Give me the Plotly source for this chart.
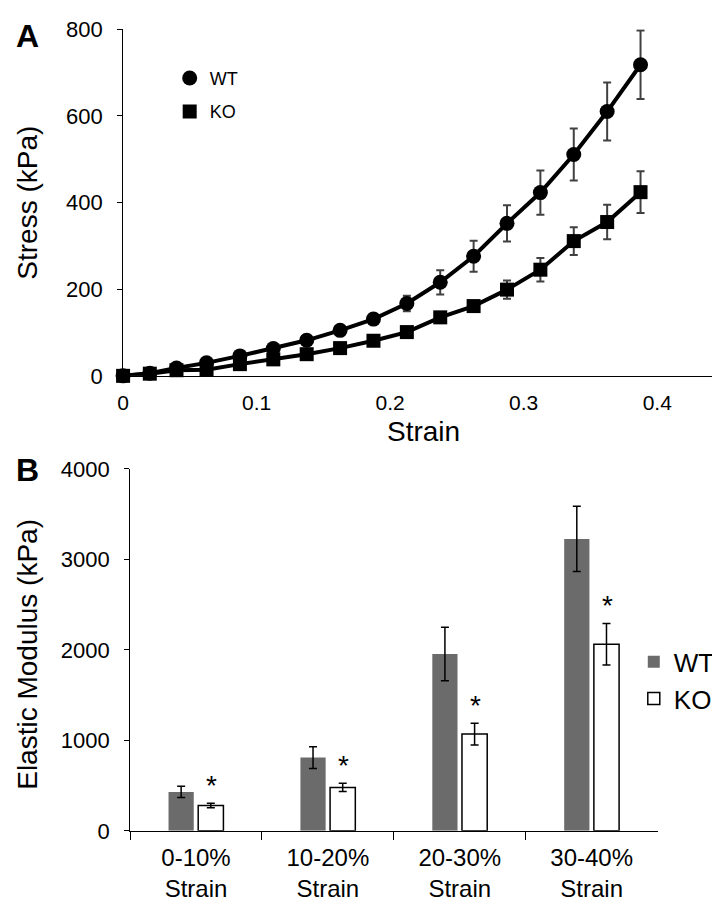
import plotly.graph_objects as go

# Panel A: stress-strain curves
strain = [0, 0.02, 0.04, 0.0625, 0.0875, 0.1125, 0.1375, 0.1625, 0.1875,
          0.2125, 0.2375, 0.2625, 0.2875, 0.3125, 0.3375, 0.3625, 0.3875]
wt_stress = [0, 6, 18, 30, 46, 63, 82, 105, 131, 167, 216, 276, 352, 423, 511, 610, 718]
wt_err = [2, 3, 4, 5, 6, 7, 8, 9, 10, 18, 28, 36, 42, 51, 60, 67, 79]
ko_stress = [0, 5, 13, 14, 27, 38, 50, 64, 81, 101, 135, 161, 199, 245, 311, 355, 424]
ko_err = [2, 3, 3, 4, 4, 5, 6, 7, 8, 9, 8, 12, 21, 27, 32, 40, 48]

# Panel B: elastic modulus by strain range
ranges = ["0-10%<br>Strain", "10-20%<br>Strain", "20-30%<br>Strain", "30-40%<br>Strain"]
wt_mod = [430, 810, 1955, 3226]
wt_mod_err = [62, 120, 295, 360]
ko_mod = [280, 480, 1070, 2062]
ko_mod_err = [24, 45, 120, 230]

W, H = 720, 901
FONT = "Liberation Sans, Arial, sans-serif"

def py(px):
    return 1 - px / H

fig = go.Figure()

# connecting lines (no legend entry, the legend only shows the marker)
for ys in (wt_stress, ko_stress):
    fig.add_trace(go.Scatter(x=strain, y=ys, mode="lines", line=dict(color="black", width=4),
                             showlegend=False, hoverinfo="skip", xaxis="x", yaxis="y"))

fig.add_trace(go.Scatter(
    x=strain, y=wt_stress, name="WT", mode="markers", legendgroup="wt",
    marker=dict(symbol="circle", size=15, color="black"),
    error_y=dict(type="data", array=wt_err, color="#404040", thickness=2, width=4),
    cliponaxis=False, xaxis="x", yaxis="y", legend="legend"))
fig.add_trace(go.Scatter(
    x=strain, y=ko_stress, name="KO", mode="markers", legendgroup="ko",
    marker=dict(symbol="square", size=14, color="black"),
    error_y=dict(type="data", array=ko_err, color="#404040", thickness=2, width=4),
    cliponaxis=False, xaxis="x", yaxis="y", legend="legend"))

fig.add_trace(go.Bar(
    x=ranges, y=wt_mod, name="WT", marker=dict(color="#6b6b6b", line=dict(width=0)),
    error_y=dict(type="data", array=wt_mod_err, color="black", thickness=1.5, width=4),
    xaxis="x2", yaxis="y2", legend="legend2"))
fig.add_trace(go.Bar(
    x=ranges, y=ko_mod, name="KO", marker=dict(color="white", line=dict(color="black", width=1.5)),
    error_y=dict(type="data", array=ko_mod_err, color="black", thickness=1.5, width=4),
    xaxis="x2", yaxis="y2", legend="legend2"))

# significance asterisks above KO bars
for cat, v, e in zip(ranges, ko_mod, ko_mod_err):
    fig.add_annotation(x=cat, y=v + e, xref="x2", yref="y2", text="*", showarrow=False,
                       xshift=16, yshift=18, yanchor="middle",
                       font=dict(family=FONT, size=28, color="black"))

ytick_font = dict(family=FONT, size=22, color="black")
title_font = dict(family=FONT, size=28, color="black")

fig.update_layout(
    width=W, height=H, margin=dict(l=0, r=0, t=0, b=0),
    paper_bgcolor="white", plot_bgcolor="white",
    barmode="group", bargap=0.55, bargroupgap=0.15,
    xaxis=dict(domain=[110 / W, 1.0], range=[0, 0.453], tickvals=[0, 0.1, 0.2, 0.3, 0.4],
               ticktext=["0", "0.1", "0.2", "0.3", "0.4"], showgrid=False, zeroline=False,
               showline=True, linecolor="black", linewidth=1, ticks="",
               tickfont=dict(family=FONT, size=21, color="black"),
               ticklabelstandoff=8, anchor="y"),
    yaxis=dict(domain=[py(366), py(9.5)], range=[0, 800], dtick=200, showgrid=False,
               zeroline=False, showline=True, linecolor="black", linewidth=1,
               ticks="outside", ticklen=5, tickcolor="black", tickfont=ytick_font,
               ticklabelstandoff=10, anchor="x"),
    xaxis2=dict(domain=[117 / W, 649 / W], showgrid=False, zeroline=False,
                showline=True, linecolor="black", linewidth=1, ticks="outside",
                tickson="boundaries", ticklen=8, tickcolor="black",
                tickfont=dict(family=FONT, size=24, color="black"),
                ticklabelstandoff=5, anchor="y2"),
    yaxis2=dict(domain=[py(834), py(461.7)], range=[0, 4000], dtick=1000, showgrid=False,
                zeroline=False, showline=True, linecolor="black", linewidth=1,
                ticks="outside", ticklen=5, tickcolor="black", tickfont=ytick_font,
                ticklabelstandoff=10, anchor="x2"),
    legend=dict(x=157 / W, y=py(41), xanchor="left", yanchor="top", tracegroupgap=7,
                font=dict(family=FONT, size=18, color="black"), bgcolor="rgba(0,0,0,0)"),
    legend2=dict(x=625 / W, y=py(636), xanchor="left", yanchor="top",
                 font=dict(family=FONT, size=26, color="black"), bgcolor="rgba(0,0,0,0)"),
    annotations=list(fig.layout.annotations) + [
        dict(text="<b>A</b>", x=0, y=py(16), xref="paper", yref="paper", showarrow=False,
             xanchor="left", yanchor="middle", font=dict(family=FONT, size=32, color="black")),
        dict(text="<b>B</b>", x=0, y=py(463), xref="paper", yref="paper", showarrow=False,
             xanchor="left", yanchor="middle", font=dict(family=FONT, size=32, color="black")),
        dict(text="Stress (kPa)", x=14 / W, y=py(188), xref="paper", yref="paper",
             showarrow=False, textangle=-90, xanchor="center", yanchor="middle", font=title_font),
        dict(text="Strain", x=413 / W, y=py(423), xref="paper", yref="paper",
             showarrow=False, xanchor="center", yanchor="middle", font=title_font),
        dict(text="Elastic Modulus (kPa)", x=14 / W, y=py(652), xref="paper", yref="paper",
             showarrow=False, textangle=-90, xanchor="center", yanchor="middle", font=title_font),
    ],
)

fig.write_html("out.html")
